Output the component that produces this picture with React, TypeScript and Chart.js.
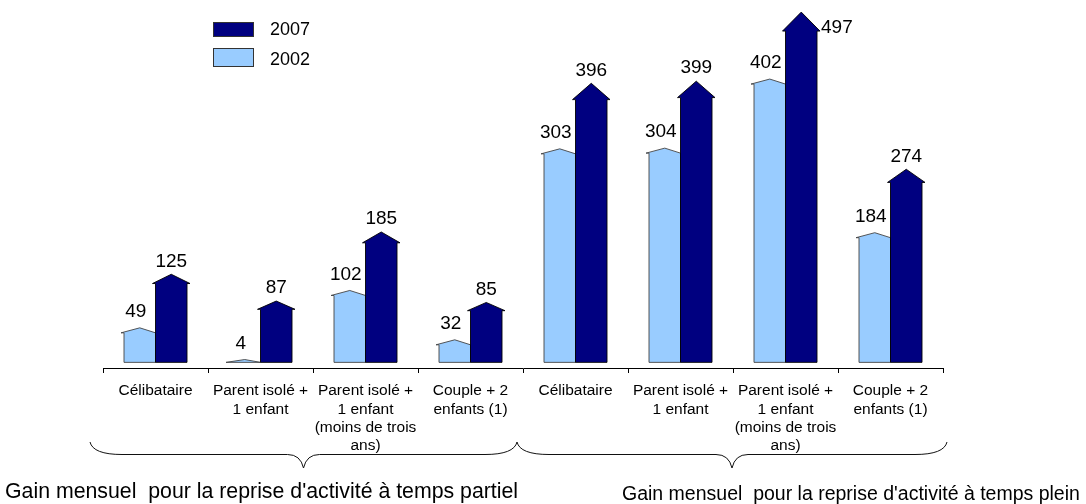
import React, { useEffect, useRef } from 'react';
import { Chart, registerables } from 'chart.js';

Chart.register(...registerables);

const categories: string[][] = [
  ['Célibataire'],
  ['Parent isolé +', '1 enfant'],
  ['Parent isolé +', '1 enfant', '(moins de trois', 'ans)'],
  ['Couple + 2', 'enfants (1)'],
  ['Célibataire'],
  ['Parent isolé +', '1 enfant'],
  ['Parent isolé +', '1 enfant', '(moins de trois', 'ans)'],
  ['Couple + 2', 'enfants (1)'],
];

const series2002: number[] = [49, 4, 102, 32, 303, 304, 402, 184];
const series2007: number[] = [125, 87, 185, 85, 396, 399, 497, 274];
const seriesNames: string[] = ['2002', '2007'];
const groupLabels: string[] = [
  "Gain mensuel  pour la reprise d'activité à temps partiel",
  "Gain mensuel  pour la reprise d'activité à temps plein",
];

const LIGHT = '#99CCFF';
const DARK = '#000080';
const FONT = 'Arial, "Liberation Sans", sans-serif';

const shapesPlugin = {
  id: 'arrowShapes',
  beforeDatasetsDraw(chart: any) {
    const ctx: CanvasRenderingContext2D = chart.ctx;
    const m0 = chart.getDatasetMeta(0);
    const m1 = chart.getDatasetMeta(1);
    ctx.save();
    ctx.lineJoin = 'miter';

    const drawLabel = (text: string, x: number, y: number, align: CanvasTextAlign) => {
      ctx.fillStyle = '#000';
      ctx.font = `19px ${FONT}`;
      ctx.textAlign = align;
      ctx.textBaseline = 'middle';
      ctx.fillText(text, x, y);
    };

    // 2002: light bars with small roof
    m0.data.forEach((el: any, i: number) => {
      const { x, y, base, width } = el.getProps(['x', 'y', 'base', 'width'], true);
      const l = x - width / 2;
      const r = x + width / 2;
      const sh = Math.min(y + 5, base);
      ctx.beginPath();
      ctx.moveTo(l, base);
      ctx.lineTo(l, sh);
      ctx.lineTo(l - 3, sh);
      ctx.lineTo(x, y);
      ctx.lineTo(r, sh);
      ctx.lineTo(r, base);
      ctx.closePath();
      ctx.fillStyle = LIGHT;
      ctx.fill();
      ctx.strokeStyle = '#444';
      ctx.lineWidth = 0.9;
      ctx.stroke();
    });
    m0.data.forEach((el: any, i: number) => {
      const { x, y } = el.getProps(['x', 'y'], true);
      drawLabel(String(series2002[i]), x - 4, y - 16, 'center');
    });

    // 2007: dark arrows
    m1.data.forEach((el: any, i: number) => {
      const { x, y, base, width } = el.getProps(['x', 'y', 'base', 'width'], true);
      const l = x - width / 2;
      const r = x + width / 2;
      const roof = 6 + 0.037 * (base - y);
      const sh = y + roof;
      ctx.beginPath();
      ctx.moveTo(l, base);
      ctx.lineTo(l, sh);
      ctx.lineTo(l - 3, sh);
      ctx.lineTo(x, y);
      ctx.lineTo(r + 3, sh);
      ctx.lineTo(r, sh);
      ctx.lineTo(r, base);
      ctx.closePath();
      ctx.fillStyle = DARK;
      ctx.fill();
      ctx.strokeStyle = '#000';
      ctx.lineWidth = 0.9;
      ctx.stroke();
    });
    m1.data.forEach((el: any, i: number) => {
      const { x, y, width } = el.getProps(['x', 'y', 'width'], true);
      const ly = y - 13;
      if (ly - 10 < 0) {
        drawLabel(String(series2007[i]), x + width / 2 + 4, y + 16, 'left');
      } else {
        drawLabel(String(series2007[i]), x, ly, 'center');
      }
    });

    ctx.restore();
    return false;
  },
  afterDraw(chart: any) {
    const ctx: CanvasRenderingContext2D = chart.ctx;
    const xs = chart.scales.x;
    ctx.save();

    // Legend (2007 first, then 2002)
    ctx.lineWidth = 1;
    ctx.strokeStyle = '#333';
    ctx.fillStyle = DARK;
    ctx.fillRect(213, 22, 40, 14);
    ctx.strokeRect(213.5, 22.5, 40, 14);
    ctx.fillStyle = LIGHT;
    ctx.fillRect(213, 48, 40, 18);
    ctx.strokeRect(213.5, 48.5, 40, 18);
    ctx.fillStyle = '#000';
    ctx.font = `18px ${FONT}`;
    ctx.textAlign = 'left';
    ctx.textBaseline = 'middle';
    ctx.fillText(seriesNames[1], 270, 30);
    ctx.fillText(seriesNames[0], 270, 60);

    // Braces
    const boundary = (xs.getPixelForValue(3) + xs.getPixelForValue(4)) / 2;
    const braces = [
      [xs.left - 13, boundary - 6],
      [boundary - 6, xs.right + 4],
    ];
    const yTop = 442;
    const yMid = 454.5;
    const yTip = 468;
    ctx.strokeStyle = '#111';
    ctx.lineWidth = 1;
    braces.forEach(([x0, x1]) => {
      const xm = (x0 + x1) / 2;
      ctx.beginPath();
      ctx.moveTo(x0, yTop);
      ctx.quadraticCurveTo(x0 + 3, yMid, x0 + 32, yMid);
      ctx.lineTo(xm - 16, yMid);
      ctx.quadraticCurveTo(xm - 3, yMid, xm, yTip);
      ctx.quadraticCurveTo(xm + 3, yMid, xm + 16, yMid);
      ctx.lineTo(x1 - 32, yMid);
      ctx.quadraticCurveTo(x1 - 3, yMid, x1, yTop);
      ctx.stroke();
    });

    // Group labels
    ctx.fillStyle = '#000';
    ctx.textAlign = 'left';
    ctx.textBaseline = 'alphabetic';
    ctx.font = `21.3px ${FONT}`;
    ctx.fillText(groupLabels[0], 5, 498);
    ctx.font = `19.5px ${FONT}`;
    ctx.fillText(groupLabels[1], 622, 500);

    ctx.restore();
  },
};

export default function App() {
  const canvasRef = useRef<HTMLCanvasElement | null>(null);

  useEffect(() => {
    if (!canvasRef.current) return;
    const chart = new Chart(canvasRef.current, {
      type: 'bar',
      data: {
        labels: categories,
        datasets: [
          { label: seriesNames[0], data: series2002, backgroundColor: LIGHT },
          { label: seriesNames[1], data: series2007, backgroundColor: DARK },
        ],
      },
      options: {
        animation: false,
        responsive: false,
        devicePixelRatio: 1,
        layout: { padding: { top: 10, left: 103, right: 143, bottom: 0 } },
        plugins: {
          legend: { display: false },
          tooltip: { enabled: false },
          title: { display: false },
        },
        datasets: {
          bar: { categoryPercentage: 0.6, barPercentage: 1.0 },
        },
        scales: {
          x: {
            grid: {
              offset: true,
              drawOnChartArea: false,
              drawTicks: true,
              tickLength: 5,
              color: '#000',
              lineWidth: 1,
            },
            border: { display: true, color: '#000', width: 1 },
            ticks: {
              autoSkip: false,
              maxRotation: 0,
              minRotation: 0,
              padding: 9,
              color: '#000',
              font: { size: 15.5, family: FONT, lineHeight: 1.18 },
            },
            afterFit: (axis: any) => {
              axis.height = 136;
            },
          },
          y: {
            display: false,
            min: -8,
            max: 500,
          },
        },
      },
      plugins: [shapesPlugin],
    } as any);
    return () => chart.destroy();
  }, []);

  return (
    <div style={{ position: 'absolute', left: 0, top: 0, width: 1086, height: 504, background: '#fff' }}>
      <canvas ref={canvasRef} width={1086} height={504} style={{ display: 'block', width: 1086, height: 504 }} />
    </div>
  );
}
